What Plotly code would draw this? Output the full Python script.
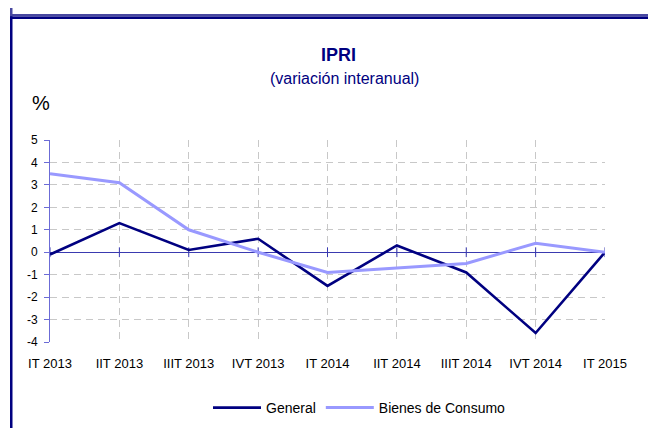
import plotly.graph_objects as go

categories = ["IT 2013", "IIT 2013", "IIIT 2013", "IVT 2013", "IT 2014",
              "IIT 2014", "IIIT 2014", "IVT 2014", "IT 2015"]
general = [-0.1, 1.3, 0.1, 0.6, -1.5, 0.3, -0.9, -3.6, 0.0]
bienes_consumo = [3.5, 3.1, 1.0, 0.0, -0.9, -0.7, -0.5, 0.4, 0.0]
y_ticks = [5, 4, 3, 2, 1, 0, -1, -2, -3, -4]

W, H = 656, 428
OFF = 8  # page body margin offset in the browser
# desired screen positions of the plot area
SL, SR, ST, SB = 50, 605, 140, 342
ML, MT = SL - OFF, ST - OFF
MR, MB = W - (SR - OFF), H - (SB - OFF)
PW, PH = W - ML - MR, H - MT - MB


def px(x):
    return (x - OFF - ML) / PW


def py(y):
    return (H - MB - (y - OFF)) / PH


FONT = "Arial, Liberation Sans, sans-serif"
NAVY = "#000080"
xs = list(range(len(categories)))

fig = go.Figure()
fig.add_trace(go.Scatter(x=xs, y=[0] * len(xs), mode="markers",
                         marker=dict(symbol="line-ns", size=7,
                                     line=dict(color="#3a3ab0", width=1)),
                         showlegend=False, hoverinfo="skip"))
fig.add_trace(go.Scatter(x=xs, y=general, mode="lines", name="General",
                         line=dict(color=NAVY, width=2.6)))
fig.add_trace(go.Scatter(x=xs, y=bienes_consumo, mode="lines",
                         name="Bienes de Consumo",
                         line=dict(color="#9999ff", width=3)))

shapes = [
    dict(type="rect", xref="paper", yref="paper", x0=px(10), x1=px(12.5),
         y0=py(-20), y1=py(14), fillcolor="#4848a0", line=dict(width=0)),
    dict(type="rect", xref="paper", yref="paper", x0=px(10), x1=px(12.5),
         y0=py(14), y1=py(H + 20), fillcolor=NAVY, line=dict(width=0)),
    dict(type="rect", xref="paper", yref="paper", x0=px(10), x1=px(W + 20),
         y0=py(14), y1=py(16.5), fillcolor="#4848a0", line=dict(width=0)),
    dict(type="rect", xref="paper", yref="paper", x0=px(10), x1=px(W + 20),
         y0=py(16.5), y1=py(19), fillcolor=NAVY, line=dict(width=0)),
]

annotations = [
    dict(text="<b>IPRI</b>", x=px(338), y=py(54.5), xref="paper", yref="paper",
         showarrow=False, font=dict(family=FONT, size=18, color=NAVY),
         xanchor="center", yanchor="middle"),
    dict(text="(variación interanual)", x=px(344), y=py(78), xref="paper",
         yref="paper", showarrow=False,
         font=dict(family=FONT, size=16, color=NAVY),
         xanchor="center", yanchor="middle"),
    dict(text="%", x=px(30), y=py(103), xref="paper", yref="paper",
         showarrow=False, font=dict(family=FONT, size=20, color="black"),
         xanchor="left", yanchor="middle"),
]

fig.update_layout(
    width=W, height=H,
    margin=dict(l=ML, r=MR, t=MT, b=MB, pad=0),
    paper_bgcolor="white", plot_bgcolor="white",
    font=dict(family=FONT, size=13, color="black"),
    shapes=shapes, annotations=annotations,
    showlegend=True,
    legend=dict(orientation="h", x=px(208), y=py(408), xanchor="left",
                yanchor="middle", font=dict(family=FONT, size=14, color="black"),
                itemwidth=48, tracegroupgap=0, bgcolor="rgba(0,0,0,0)"),
    xaxis=dict(range=[0, len(categories) - 1], tickvals=xs, ticktext=categories,
               showgrid=True, gridcolor="#c8c8c8", griddash="7px,5px",
               gridwidth=1, zeroline=False, showline=False,
               ticks="", ticklabelstandoff=12,
               tickfont=dict(family=FONT, size=13, color="black")),
    yaxis=dict(range=[-4, 5], tickvals=y_ticks, ticktext=[str(v) for v in y_ticks],
               showgrid=True, gridcolor="#c8c8c8", griddash="7px,5px",
               gridwidth=1, zeroline=True, zerolinecolor="#3a3ab0",
               zerolinewidth=1, showline=True, linecolor="#6b6bd6",
               linewidth=1, ticks="outside", ticklen=5, tickcolor="#6b6bd6",
               ticklabelstandoff=4,
               tickfont=dict(family=FONT, size=12, color="black")),
)

fig.write_html("out.html")
